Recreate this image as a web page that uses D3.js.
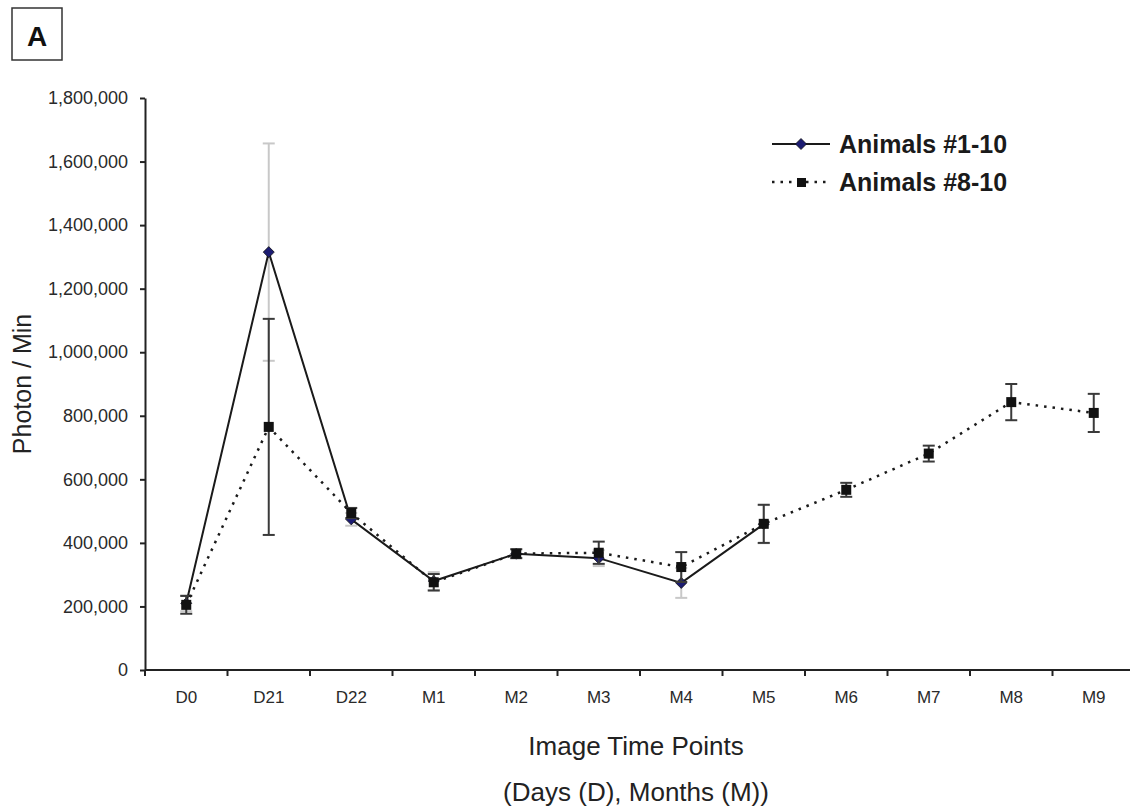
<!DOCTYPE html>
<html>
<head>
<meta charset="utf-8">
<script src="https://cdn.jsdelivr.net/npm/d3@7"></script>
<style>
  body { margin: 0; background: #fff; }
  svg { display: block; font-family: "Liberation Sans", Arial, sans-serif; }
</style>
</head>
<body>
<div id="chart"></div>
<script>
// Time points on the x axis
const timePoints = ["D0", "D21", "D22", "M1", "M2", "M3", "M4", "M5", "M6", "M7", "M8", "M9"];

// Animals #1-10 (measured up to M5)
const animals1to10 = [210000, 1315000, 474000, 280000, 366000, 352000, 274000, 459000];
const animals1to10Err = [25000, 342000, 20000, 28000, 14000, 25000, 47000, 60000];

// Animals #8-10 (all time points)
const animals8to10 = [205000, 765000, 494000, 276000, 366000, 369000, 324000, 460000, 567000, 681000, 843000, 809000];
const animals8to10Err = [28000, 340000, 16000, 26000, 14000, 35000, 47000, 60000, 22000, 25000, 57000, 60000];

// y axis tick values
const yTicks = [0, 200000, 400000, 600000, 800000, 1000000, 1200000, 1400000, 1600000, 1800000];

const width = 1130, height = 809;
const margin = { top: 98, left: 145, bottom: 670 };

const svg = d3.select("#chart").append("svg")
    .attr("width", width)
    .attr("height", height);

// Scales
const x = d3.scaleBand()
    .domain(timePoints)
    .range([margin.left, margin.left + 82.5 * timePoints.length]);

const y = d3.scaleLinear()
    .domain([0, 1800000])
    .range([margin.bottom, margin.top]);

const fmt = d3.format(",");

// Panel letter
svg.append("rect")
    .attr("x", 12).attr("y", 8)
    .attr("width", 50).attr("height", 52)
    .attr("fill", "none")
    .attr("stroke", "#333")
    .attr("stroke-width", 1.5);
svg.append("text")
    .attr("x", 37).attr("y", 46)
    .attr("text-anchor", "middle")
    .attr("font-size", 28)
    .attr("font-weight", "bold")
    .attr("fill", "#111")
    .text("A");

// Y axis
const yAxis = svg.append("g")
    .attr("transform", `translate(${margin.left},0)`)
    .call(d3.axisLeft(y).tickValues(yTicks).tickFormat(fmt).tickSize(5).tickPadding(12).tickSizeOuter(0));
yAxis.select(".domain").attr("stroke", "#222").attr("stroke-width", 2);
yAxis.selectAll(".tick line").attr("stroke", "#222").attr("stroke-width", 2);
yAxis.selectAll(".tick text")
    .attr("font-size", 18)
    .attr("fill", "#2a2a2a")
    .attr("font-family", "Liberation Sans, Arial, sans-serif");

// X axis: labels centred in each band, ticks on band boundaries
const xAxis = svg.append("g")
    .attr("transform", `translate(0,${margin.bottom})`)
    .call(d3.axisBottom(x).tickSize(0).tickPadding(21));
xAxis.select(".domain").remove();
xAxis.selectAll(".tick text")
    .attr("font-size", 17)
    .attr("fill", "#2a2a2a")
    .attr("font-family", "Liberation Sans, Arial, sans-serif");

svg.append("line")
    .attr("x1", margin.left).attr("x2", width)
    .attr("y1", margin.bottom).attr("y2", margin.bottom)
    .attr("stroke", "#222").attr("stroke-width", 2);

svg.append("g").selectAll("line")
    .data(timePoints)
    .enter()
    .append("line")
    .attr("x1", d => x(d)).attr("x2", d => x(d))
    .attr("y1", margin.bottom).attr("y2", margin.bottom + 6)
    .attr("stroke", "#222").attr("stroke-width", 2);

// Axis titles
svg.append("text")
    .attr("transform", `translate(31,${(margin.top + margin.bottom) / 2}) rotate(-90)`)
    .attr("text-anchor", "middle")
    .attr("font-size", 25)
    .attr("fill", "#222")
    .text("Photon / Min");

svg.append("text")
    .attr("x", 636).attr("y", 755)
    .attr("text-anchor", "middle")
    .attr("font-size", 26)
    .attr("fill", "#222")
    .text("Image Time Points");

svg.append("text")
    .attr("x", 636).attr("y", 801)
    .attr("text-anchor", "middle")
    .attr("font-size", 26)
    .attr("fill", "#222")
    .text("(Days (D), Months (M))");

const cx = d => x(d) + x.bandwidth() / 2;
const capW = 6;

// Error bars helper
function errorBars(values, errs, color) {
    const g = svg.append("g").attr("stroke", color).attr("stroke-width", 2);
    values.forEach((v, i) => {
        const px = cx(timePoints[i]);
        const top = y(v + errs[i]), bot = y(v - errs[i]);
        g.append("line").attr("x1", px).attr("x2", px).attr("y1", top).attr("y2", bot);
        g.append("line").attr("x1", px - capW).attr("x2", px + capW).attr("y1", top).attr("y2", top);
        g.append("line").attr("x1", px - capW).attr("x2", px + capW).attr("y1", bot).attr("y2", bot);
    });
}

const line = d3.line()
    .x((d, i) => cx(timePoints[i]))
    .y(d => y(d));

// square diamond marker (rotated square)
const diamondPath = "M0,-5.5L5.5,0L0,5.5L-5.5,0Z";

// Animals #1-10
errorBars(animals1to10, animals1to10Err, "#c8c8c8");

svg.append("path")
    .datum(animals1to10)
    .attr("d", line)
    .attr("fill", "none")
    .attr("stroke", "#1a1a1a")
    .attr("stroke-width", 2);

svg.append("g").selectAll("path")
    .data(animals1to10)
    .enter()
    .append("path")
    .attr("d", diamondPath)
    .attr("transform", (d, i) => `translate(${cx(timePoints[i])},${y(d)})`)
    .attr("fill", "#1c1c72")
    .attr("stroke", "#111")
    .attr("stroke-width", 0.8);

// Animals #8-10
errorBars(animals8to10, animals8to10Err, "#3a3a3a");

svg.append("path")
    .datum(animals8to10)
    .attr("d", line)
    .attr("fill", "none")
    .attr("stroke", "#1a1a1a")
    .attr("stroke-width", 2.5)
    .attr("stroke-dasharray", "2.5,6");

svg.append("g").selectAll("rect")
    .data(animals8to10)
    .enter()
    .append("rect")
    .attr("x", (d, i) => cx(timePoints[i]) - 5)
    .attr("y", d => y(d) - 5)
    .attr("width", 10).attr("height", 10)
    .attr("fill", "#111");

// Legend
const legend = svg.append("g");
legend.append("line")
    .attr("x1", 772).attr("x2", 830).attr("y1", 144).attr("y2", 144)
    .attr("stroke", "#1a1a1a").attr("stroke-width", 2);
legend.append("path")
    .attr("d", diamondPath)
    .attr("transform", "translate(801,144)")
    .attr("fill", "#1c1c72").attr("stroke", "#111").attr("stroke-width", 0.8);
legend.append("text")
    .attr("x", 839).attr("y", 153)
    .attr("font-size", 25).attr("font-weight", "bold").attr("fill", "#1a1a1a")
    .text("Animals #1-10");

legend.append("line")
    .attr("x1", 772).attr("x2", 830).attr("y1", 182).attr("y2", 182)
    .attr("stroke", "#1a1a1a").attr("stroke-width", 2.5)
    .attr("stroke-dasharray", "2.5,6");
legend.append("rect")
    .attr("x", 797).attr("y", 178).attr("width", 9).attr("height", 9)
    .attr("fill", "#111");
legend.append("text")
    .attr("x", 839).attr("y", 191)
    .attr("font-size", 25).attr("font-weight", "bold").attr("fill", "#1a1a1a")
    .text("Animals #8-10");
</script>
</body>
</html>
